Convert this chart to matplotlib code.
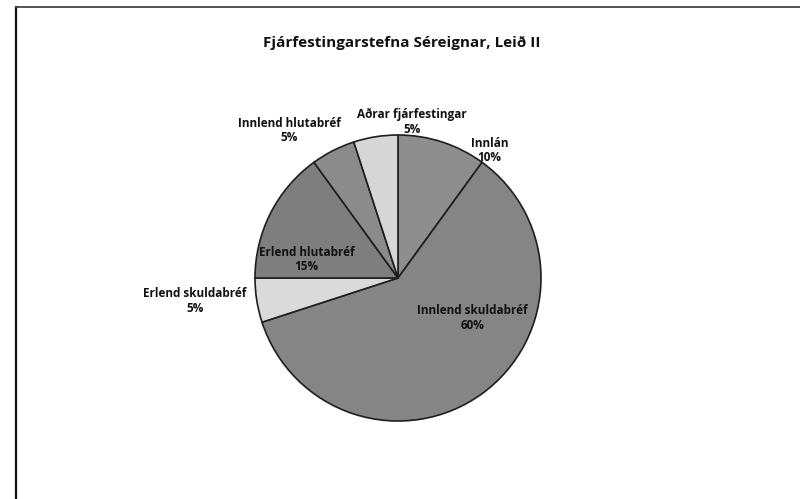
import matplotlib
matplotlib.use("Agg")
import matplotlib.pyplot as plt
from matplotlib.lines import Line2D

plt.rcParams['font.family'] = ['Liberation Sans Narrow', 'Open Sans', 'DejaVu Sans']

# --- data ---
categories = ["Innlán", "Innlend skuldabréf", "Erlend skuldabréf",
              "Erlend hlutabréf", "Innlend hlutabréf", "Aðrar fjárfestingar"]
shares = [10, 60, 5, 15, 5, 5]
colors = ["#8e8e8e", "#858585", "#dadada", "#7e7e7e", "#8b8b8b", "#d6d6d6"]

# label anchor points (data units, pie radius = 1)
label_pos = [(0.64, 0.89), (0.52, -0.28), (-1.42, -0.16),
             (-0.64, 0.13), (-0.76, 1.03), (0.10, 1.09)]

W, H = 800, 499
fig = plt.figure(figsize=(W / 100, H / 100), dpi=100)

# pie axes: centre (398, 278) px, radius 143 px
cx, cy, r = 398, 278, 143
ax = fig.add_axes([(cx - r) / W, 1 - (cy + r) / H, 2 * r / W, 2 * r / H])
ax.pie(shares, colors=colors, startangle=90, counterclock=False, radius=1,
       wedgeprops=dict(edgecolor="#1e1e1e", linewidth=1.2))
ax.set_xlim(-1, 1)
ax.set_ylim(-1, 1)
ax.set_aspect('equal')
ax.axis('off')

for name, val, (x, y) in zip(categories, shares, label_pos):
    ax.text(x, y, f"{name}\n{val}%", ha='center', va='center', fontsize=8.5,
            fontweight='bold', color='#111111', linespacing=1.15,
            clip_on=False)

fig.text(0.5025, 1 - 43 / H, "Fjárfestingarstefna Séreignar, Leið II",
         ha='center', va='center', fontsize=11, fontweight='bold',
         color='#111111')

# frame edges of the scanned chart box
fig.add_artist(Line2D([16 / W, 16 / W], [0, 1 - 7 / H], color='#111111', lw=1.6))
fig.add_artist(Line2D([16 / W, 1], [1 - 7 / H, 1 - 7 / H], color='#444444', lw=1.3))

fig.savefig("out.png", dpi=100)
